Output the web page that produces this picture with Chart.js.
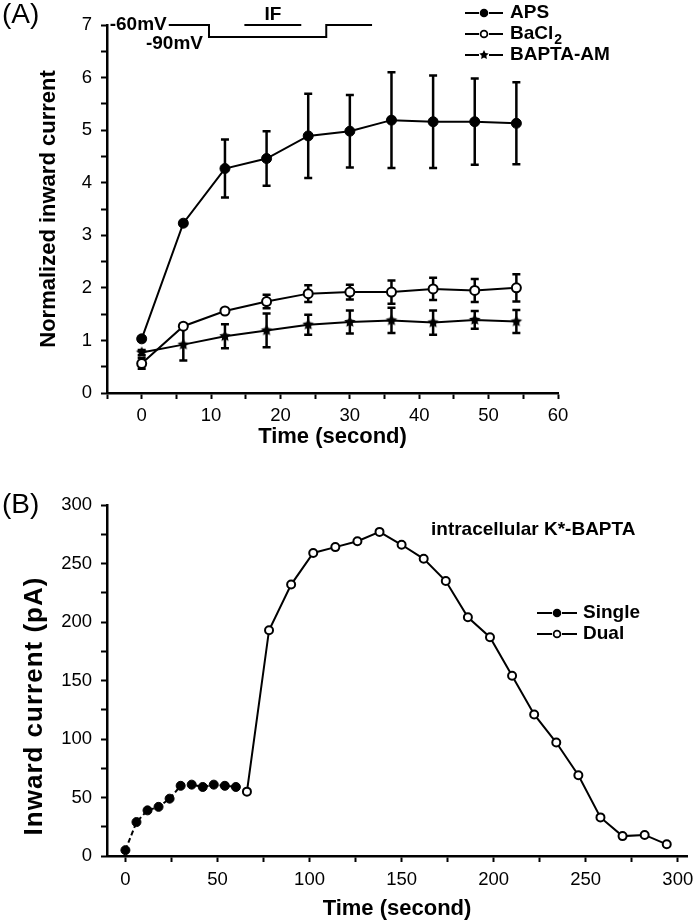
<!DOCTYPE html>
<html>
<head>
<meta charset="utf-8">
<script src="https://cdn.jsdelivr.net/npm/chart.js@4.4.1/dist/chart.umd.min.js"></script>
<style>
  body { margin: 0; background: #fff; }
  #boxA { position: absolute; left: 0; top: 0; }
  #boxB { position: absolute; left: 0; top: 470px; }
</style>
</head>
<body>
<div id="boxA"><canvas id="chartA" width="694" height="460"></canvas></div>
<div id="boxB"><canvas id="chartB" width="694" height="452"></canvas></div>
<script>
// ---- panel A data ----
const timeA = [0, 6, 12, 18, 24, 30, 36, 42, 48, 54];
const aps = [1.03, 3.23, 4.27, 4.46, 4.89, 4.98, 5.19, 5.16, 5.16, 5.13];
const apsErr = [0.04, 0.04, 0.55, 0.52, 0.8, 0.69, 0.91, 0.88, 0.82, 0.78];
const bacl2 = [0.56, 1.27, 1.56, 1.74, 1.89, 1.92, 1.92, 1.98, 1.95, 2.0];
const bacl2Err = [0.1, 0.04, 0.04, 0.13, 0.16, 0.14, 0.22, 0.21, 0.22, 0.26];
const bapta = [0.77, 0.92, 1.08, 1.19, 1.3, 1.35, 1.38, 1.34, 1.39, 1.36];
const baptaErr = [0.05, 0.3, 0.23, 0.32, 0.19, 0.22, 0.24, 0.23, 0.17, 0.22];
const ticksXA = [-5, 0, 5, 10, 15, 20, 25, 30, 35, 40, 45, 50, 55, 60];

// voltage protocol drawn over panel A (time, level on the y scale)
const protoTime = [3.9, 9.7, 9.7, 26.6, 26.6, 33.2];
const protoLevel = [7, 7, 6.77, 6.77, 7, 7];
const ifBar = [14.8, 23.0];

// ---- panel B data ----
const timeSingle = [0, 6, 12, 18, 24, 30, 36, 42, 48, 54, 60];
const single = [5, 29, 39, 42, 49, 60, 61, 59, 61, 60, 59];
const timeDual = [66, 78, 90, 102, 114, 126, 138, 150, 162, 174, 186, 198, 210, 222, 234, 246, 258, 270, 282, 294];
const dual = [55, 193, 232, 259, 264, 269, 277, 266, 254, 235, 204, 187, 154, 121, 97, 69, 33, 17, 18, 10];
const ticksXB = [0, 25, 50, 75, 100, 125, 150, 175, 200, 225, 250, 275, 300];

const FONT = '"Liberation Sans", Arial, Helvetica, sans-serif';
Chart.defaults.font.family = FONT;
Chart.defaults.color = '#000';

function toPoints(xs, ys) {
    return xs.map((x, i) => ({ x: x, y: ys[i] }));
}

function makeStar(r) {
    const c = document.createElement('canvas');
    const s = Math.ceil(r * 2 + 2);
    c.width = s; c.height = s;
    const g = c.getContext('2d');
    g.fillStyle = '#000';
    g.beginPath();
    for (let i = 0; i < 10; i++) {
        const rad = i % 2 === 0 ? r : r * 0.5;
        const a = -Math.PI / 2 + i * Math.PI / 5;
        const px = s / 2 + rad * Math.cos(a), py = s / 2 + rad * Math.sin(a);
        if (i) g.lineTo(px, py); else g.moveTo(px, py);
    }
    g.closePath();
    g.fill();
    return c;
}
const starBig = makeStar(6);

function marker(ctx, kind, x, y, r) {
    ctx.save();
    if (kind === 'star') {
        const st = makeStar(r + 1.5);
        ctx.drawImage(st, x - st.width / 2, y - st.height / 2);
    } else {
        ctx.beginPath();
        ctx.arc(x, y, r, 0, Math.PI * 2);
        ctx.fillStyle = kind === 'open' ? '#fff' : '#000';
        ctx.fill();
        ctx.lineWidth = 1.8;
        ctx.strokeStyle = '#000';
        ctx.stroke();
    }
    ctx.restore();
}

function drawLegend(ctx, items, x0, x1, mx, tx, ys) {
    ctx.save();
    ctx.font = 'bold 19px ' + FONT;
    ctx.textBaseline = 'middle';
    ctx.textAlign = 'left';
    ctx.fillStyle = '#000';
    ctx.strokeStyle = '#000';
    ctx.lineWidth = 2;
    items.forEach((it, i) => {
        const y = ys[i];
        ctx.beginPath();
        ctx.moveTo(x0, y); ctx.lineTo(mx - 5, y);
        ctx.moveTo(mx + 5, y); ctx.lineTo(x1, y);
        ctx.stroke();
        marker(ctx, it.kind, mx, y, 3.4);
        ctx.fillText(it.label, tx, y);
        if (it.sub) {
            const w = ctx.measureText(it.label).width;
            ctx.font = 'bold 14px ' + FONT;
            ctx.fillText(it.sub, tx + w + 1, y + 6);
            ctx.font = 'bold 19px ' + FONT;
        }
    });
    ctx.restore();
}

const errorBars = {
    id: 'errorBars',
    beforeDatasetsDraw(chart) {
        const ctx = chart.ctx, ys = chart.scales.y;
        chart.data.datasets.forEach((ds, i) => {
            if (!ds.errors) return;
            const meta = chart.getDatasetMeta(i);
            ctx.save();
            ctx.strokeStyle = '#000';
            ctx.lineWidth = 2.5;
            meta.data.forEach((pt, j) => {
                const e = ds.errors[j];
                if (!e) return;
                const v = ds.data[j].y;
                const top = ys.getPixelForValue(v + e), bot = ys.getPixelForValue(v - e);
                ctx.beginPath();
                ctx.moveTo(pt.x, top); ctx.lineTo(pt.x, bot);
                ctx.moveTo(pt.x - 4, top); ctx.lineTo(pt.x + 4, top);
                ctx.moveTo(pt.x - 4, bot); ctx.lineTo(pt.x + 4, bot);
                ctx.stroke();
            });
            ctx.restore();
        });
    }
};

const panelAExtras = {
    id: 'panelAExtras',
    afterDraw(chart) {
        const { ctx, scales: { x, y } } = chart;
        ctx.save();
        ctx.strokeStyle = '#000';
        ctx.fillStyle = '#000';
        ctx.lineWidth = 2;
        ctx.beginPath();
        protoTime.forEach((t, i) => {
            const px = x.getPixelForValue(t), py = y.getPixelForValue(protoLevel[i]);
            if (i) ctx.lineTo(px, py); else ctx.moveTo(px, py);
        });
        ctx.moveTo(x.getPixelForValue(ifBar[0]), y.getPixelForValue(7));
        ctx.lineTo(x.getPixelForValue(ifBar[1]), y.getPixelForValue(7));
        ctx.stroke();

        ctx.font = 'bold 19px ' + FONT;
        ctx.textBaseline = 'middle';
        ctx.textAlign = 'right';
        ctx.fillText('-60mV', x.getPixelForValue(protoTime[0]) - 2, y.getPixelForValue(7));
        ctx.fillText('-90mV', x.getPixelForValue(protoTime[1]) - 6, y.getPixelForValue(protoLevel[2]) + 7);
        ctx.textAlign = 'center';
        ctx.fillText('IF', (x.getPixelForValue(ifBar[0]) + x.getPixelForValue(ifBar[1])) / 2, y.getPixelForValue(7) - 10);

        ctx.font = '28px ' + FONT;
        ctx.textAlign = 'left';
        ctx.fillText('(A)', 2, 15);
        ctx.restore();

        drawLegend(ctx, [
            { label: 'APS', kind: 'filled' },
            { label: 'BaCl', sub: '2', kind: 'open' },
            { label: 'BAPTA-AM', kind: 'star' }
        ], 465, 503, 484, 510, [13, 34, 55]);
    }
};

const panelBExtras = {
    id: 'panelBExtras',
    afterDraw(chart) {
        const ctx = chart.ctx;
        ctx.save();
        ctx.fillStyle = '#000';
        ctx.font = '28px ' + FONT;
        ctx.textBaseline = 'middle';
        ctx.textAlign = 'left';
        ctx.fillText('(B)', 2, 35);

        ctx.font = 'bold 19px ' + FONT;
        ctx.fillText('intracellular K*-BAPTA', 431, 60);

        ctx.translate(35, 236);
        ctx.rotate(-Math.PI / 2);
        ctx.textAlign = 'center';
        ctx.font = 'bold 26px ' + FONT;
        ctx.letterSpacing = '1px';
        ctx.fillText('Inward current (pA)', 0, 0);
        ctx.restore();

        drawLegend(ctx, [
            { label: 'Single', kind: 'filled' },
            { label: 'Dual', kind: 'open' }
        ], 537, 577, 557, 583, [143, 164]);
    }
};

function axisX(min, max, tickList, every, title, height, titlePad, tickPad) {
    return {
        type: 'linear', min: min, max: max,
        afterBuildTicks: s => { s.ticks = tickList.map(v => ({ value: v })); },
        afterFit: s => { s.height = height; s.paddingLeft = 0; s.paddingRight = 0; },
        ticks: {
            autoSkip: false, maxRotation: 0, padding: tickPad,
            font: { size: 18.5 }, color: '#000',
            callback: v => (Math.abs(v % every) < 1e-6 ? v : '')
        },
        grid: { drawOnChartArea: false, drawTicks: true, tickLength: 6, tickColor: '#000', tickWidth: 2 },
        border: { color: '#000', width: 2.5 },
        title: { display: true, text: title, color: '#000', font: { size: 22, weight: 'bold' }, padding: { top: 0, bottom: titlePad } }
    };
}

function axisY(min, max, step, every, title) {
    return {
        type: 'linear', min: min, max: max,
        afterFit: s => { s.width = 107; s.paddingTop = 0; s.paddingBottom = 0; },
        ticks: {
            stepSize: step, autoSkip: false, padding: 9,
            font: { size: 18.5 }, color: '#000',
            callback: v => (Math.abs(v % every) < 1e-6 ? v : '')
        },
        grid: { drawOnChartArea: false, drawTicks: true, tickLength: 6, tickColor: '#000', tickWidth: 2 },
        border: { color: '#000', width: 2.5 },
        title: { display: !!title, text: title, color: '#000', font: { size: 22, weight: 'bold' }, padding: { top: 36, bottom: 0 } }
    };
}

const common = {
    responsive: false,
    animation: false,
    events: [],
    plugins: { legend: { display: false }, tooltip: { enabled: false } }
};

new Chart(document.getElementById('chartA').getContext('2d'), {
    type: 'line',
    data: {
        datasets: [
            {
                label: 'APS', data: toPoints(timeA, aps), errors: apsErr,
                borderColor: '#000', borderWidth: 2, tension: 0,
                pointRadius: 5, pointBackgroundColor: '#000', pointBorderColor: '#000', pointBorderWidth: 1
            },
            {
                label: 'BaCl2', data: toPoints(timeA, bacl2), errors: bacl2Err,
                borderColor: '#000', borderWidth: 2, tension: 0,
                pointRadius: 4.5, pointBackgroundColor: '#fff', pointBorderColor: '#000', pointBorderWidth: 2
            },
            {
                label: 'BAPTA-AM', data: toPoints(timeA, bapta), errors: baptaErr,
                borderColor: '#000', borderWidth: 2, tension: 0,
                pointStyle: starBig, pointRadius: 6
            }
        ]
    },
    options: Object.assign({}, common, {
        layout: { padding: { left: 0, right: 136, top: 25, bottom: 0 } },
        scales: {
            x: axisX(-5, 60, ticksXA, 10, 'Time (second)', 67, 10, 6),
            y: axisY(0, 7, 0.5, 1, 'Normalized inward current')
        }
    }),
    plugins: [errorBars, panelAExtras]
});

new Chart(document.getElementById('chartB').getContext('2d'), {
    type: 'line',
    data: {
        datasets: [
            {
                label: 'Single', data: toPoints(timeSingle, single),
                borderColor: '#000', borderWidth: 2, borderDash: [5, 3], tension: 0,
                pointRadius: 4.5, pointBackgroundColor: '#000', pointBorderColor: '#000', pointBorderWidth: 1
            },
            {
                label: 'Dual', data: toPoints(timeDual, dual),
                borderColor: '#000', borderWidth: 2, tension: 0,
                pointRadius: 4, pointBackgroundColor: '#fff', pointBorderColor: '#000', pointBorderWidth: 2
            }
        ]
    },
    options: Object.assign({}, common, {
        layout: { padding: { left: 0, right: 7, top: 35, bottom: 0 } },
        scales: {
            x: axisX(-10, 305, ticksXB, 50, 'Time (second)', 66, 0, 7),
            y: axisY(0, 300, 25, 50, '')
        }
    }),
    plugins: [panelBExtras]
});
</script>
</body>
</html>
